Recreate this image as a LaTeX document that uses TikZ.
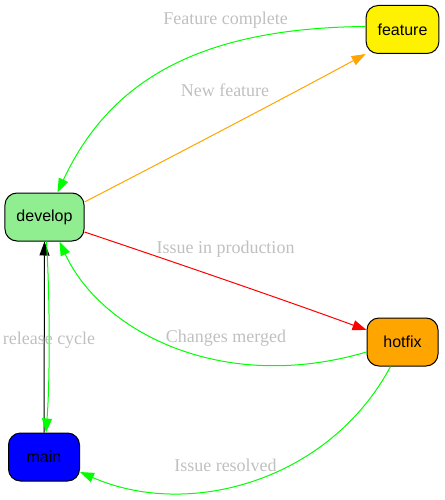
\documentclass[tikz,border=0pt]{standalone}
\usepackage{fontspec}
\setmainfont{Liberation Serif}
\newfontfamily\boxfont{Liberation Sans}
\usetikzlibrary{arrows.meta}
\definecolor{lblgray}{RGB}{192,192,192}
\definecolor{gvlgreen}{RGB}{144,238,144}
\definecolor{gvorange}{RGB}{255,165,0}
\definecolor{gvgreen}{RGB}{0,255,0}
\tikzset{
  branch/.style = {draw=black, rectangle, rounded corners=12pt,
                   line width=1pt, minimum width=71pt,
                   minimum height=48pt, inner xsep=11.5pt,
                   font=\boxfont\fontsize{16}{18}\selectfont},
  lbl/.style    = {text=lblgray, anchor=base, inner sep=0pt,
                   font=\fontsize{18}{20}\selectfont},
  arr/.style    = {-{Triangle[length=14pt,width=10pt]}, line width=1pt},
}

\begin{document}
\begin{tikzpicture}[x=1pt, y=-1pt]

% ────────────────────────────────────────────────────────────
%  Pixel grid of the frame: x to the right, y downwards.
%  Branch boxes: feature, develop, hotfix, main
% ────────────────────────────────────────────────────────────
\useasboundingbox (0,0) rectangle (444,500);

% ── Branches ────────────────────────────────────────────────
\node[branch, fill=yellow]   (feature) at (402.5, 29.5) {feature};
\node[branch, fill=gvlgreen] (develop) at (44.5, 217)   {develop};
\node[branch, fill=gvorange] (hotfix)  at (402.5, 342)  {hotfix};
\node[branch, fill=blue]     (main)    at (44, 457)     {main};

% ── Feature loop ────────────────────────────────────────────
\draw[arr, gvgreen] ([yshift=3pt]feature.west)
  .. controls (200,28) and (110,80) .. ([xshift=13pt]develop.north);
\node[lbl] (l-fc) at (225.5, 25) {Feature complete};

\draw[arr, gvorange] ([yshift=15pt]develop.east)
  .. controls (160,163) and (290,95) .. (feature.south west);
\node[lbl] (l-nf) at (225, 97) {New feature};

% ── Hotfix loop ─────────────────────────────────────────────
\draw[arr, red] ([yshift=-15pt]develop.east)
  .. controls (180,264) and (290,302) .. ([yshift=12pt]hotfix.west);
\node[lbl] (l-ip) at (225.5, 253) {Issue in production};

\draw[arr, gvgreen] ([yshift=-10pt]hotfix.west)
  .. controls (220,395) and (100,330) .. ([xshift=15pt]develop.south);
\node[lbl] (l-cm) at (226, 342) {Changes merged};

\draw[arr, gvgreen] ([xshift=-12pt]hotfix.south)
  .. controls (330,480) and (190,520) .. ([yshift=-15pt]main.east);
\node[lbl] (l-ir) at (225.5, 471) {Issue resolved};

% ── Release cycle ───────────────────────────────────────────
\draw[arr, black] (main.north) -- (develop.south);
\draw[arr, gvgreen] ([xshift=2pt]develop.south)
  .. controls (50,300) and (50,380) .. ([xshift=2pt]main.north);
\node[lbl] (l-rc) at (49, 344) {release cycle};

\end{tikzpicture}
\end{document}
